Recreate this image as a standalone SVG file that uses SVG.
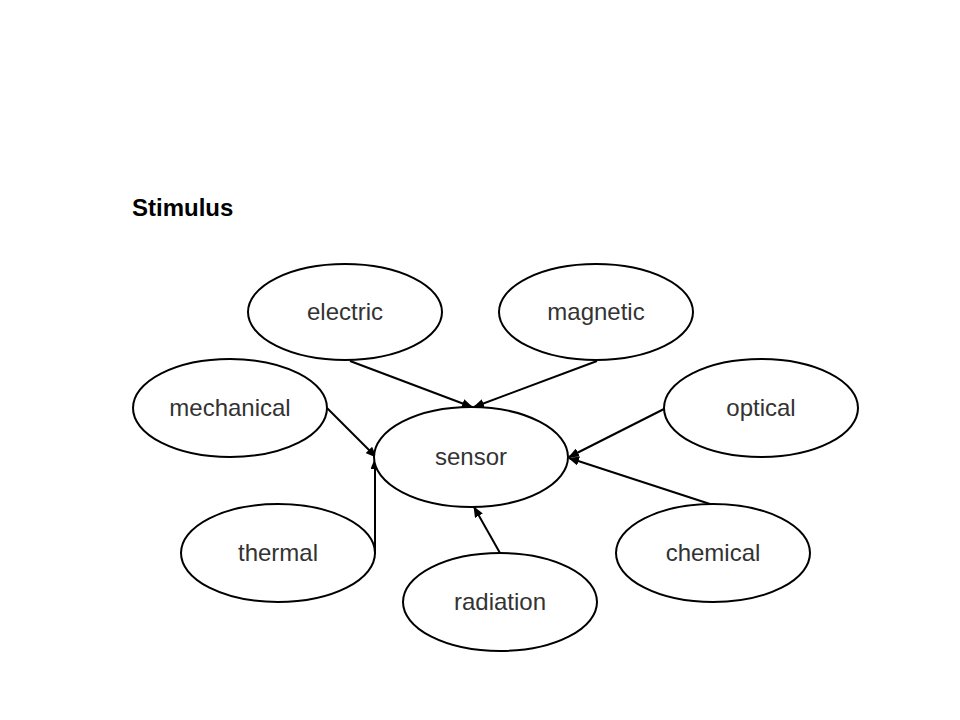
<svg xmlns="http://www.w3.org/2000/svg" width="960" height="720" viewBox="0 0 960 720">
<style>
.node ellipse{fill:#fff;stroke:#000;stroke-width:2}
.node text{font-family:"Liberation Sans",Arial,sans-serif;font-size:24px;fill:#333;text-anchor:middle}
.title{font-family:"Liberation Sans",Arial,sans-serif;font-size:24px;font-weight:bold;fill:#000}
#connectors line{stroke:#000;stroke-width:2;marker-end:url(#arr)}
</style>
<defs>
<marker id="arr" markerWidth="11" markerHeight="9" refX="10" refY="4.5" orient="auto" markerUnits="userSpaceOnUse">
<path d="M0,0 L11,4.5 L0,9 Z" fill="#000"/>
</marker>
</defs>
<rect width="960" height="720" fill="#fff"/>
<text class="title" x="132" y="216">Stimulus</text>
<g id="connectors">
<line x1="350" y1="361" x2="472" y2="407"/>
<line x1="597" y1="361" x2="474" y2="407"/>
<line x1="327" y1="408" x2="376" y2="457"/>
<line x1="375" y1="554" x2="375" y2="459"/>
<line x1="500" y1="553" x2="474" y2="507"/>
<line x1="664" y1="409" x2="569" y2="457"/>
<line x1="713" y1="505" x2="569" y2="458"/>
</g>
<g id="electric" class="node"><ellipse cx="345" cy="312" rx="97" ry="48"/><text x="345" y="320">electric</text></g>
<g id="magnetic" class="node"><ellipse cx="596" cy="312" rx="97" ry="48"/><text x="596" y="320">magnetic</text></g>
<g id="mechanical" class="node"><ellipse cx="230" cy="408" rx="97" ry="49"/><text x="230" y="416">mechanical</text></g>
<g id="sensor" class="node"><ellipse cx="471" cy="457" rx="97" ry="50"/><text x="471" y="465">sensor</text></g>
<g id="optical" class="node"><ellipse cx="761" cy="408" rx="97" ry="49"/><text x="761" y="416">optical</text></g>
<g id="thermal" class="node"><ellipse cx="278" cy="553" rx="97" ry="49"/><text x="278" y="561">thermal</text></g>
<g id="radiation" class="node"><ellipse cx="500" cy="602" rx="97" ry="49"/><text x="500" y="610">radiation</text></g>
<g id="chemical" class="node"><ellipse cx="713" cy="553" rx="97" ry="49"/><text x="713" y="561">chemical</text></g>
</svg>
